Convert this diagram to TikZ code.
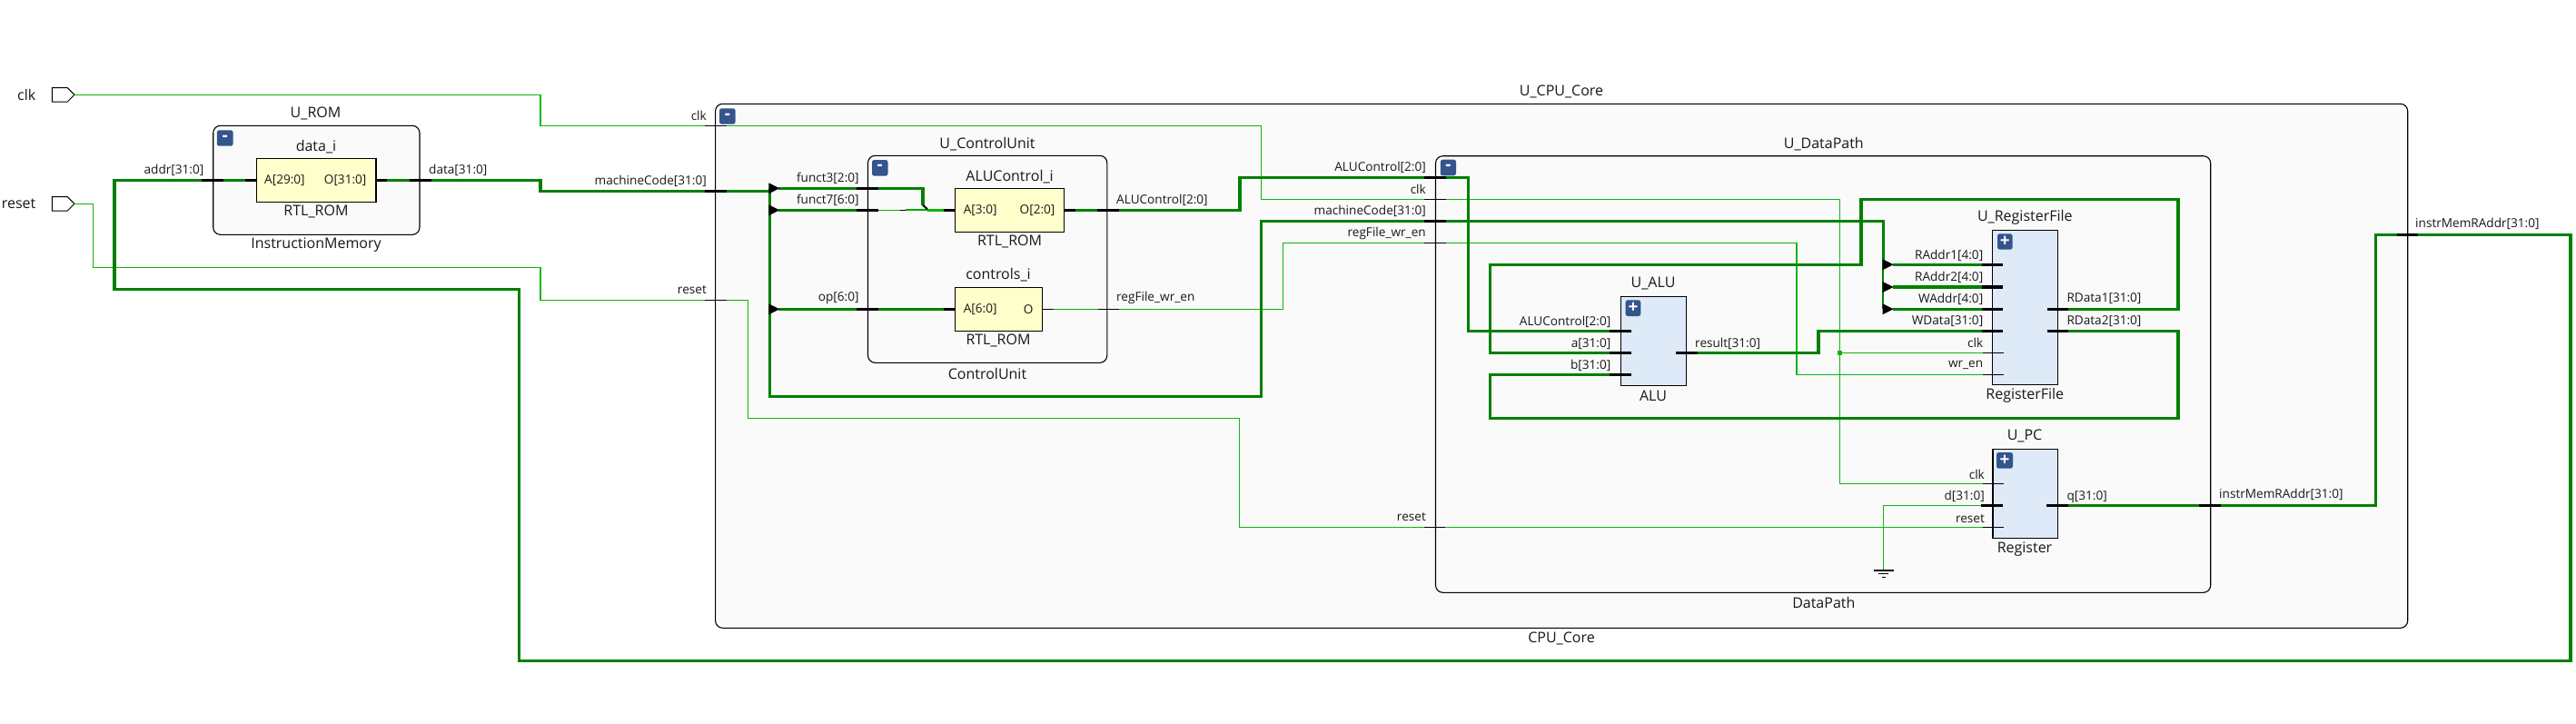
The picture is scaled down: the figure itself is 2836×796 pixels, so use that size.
\documentclass[tikz,border=0pt]{standalone}
\usepackage{fontspec}
\setmainfont{Open Sans}
\usetikzlibrary{shapes.symbols,calc}
\definecolor{wirethick}{HTML}{008000}
\definecolor{wirethin}{HTML}{10B410}
\definecolor{cellfill}{HTML}{FAFAFA}
\definecolor{romfill}{HTML}{FFFFCC}
\definecolor{blockfill}{HTML}{DEEAF8}
\definecolor{iconfill}{HTML}{34548C}
\definecolor{txt}{HTML}{181818}
\tikzset{
  x=1pt,y=-1pt,
  boxbase/.style={inner sep=0pt,outer sep=0pt,line width=1.1pt,draw=black},
  cellbox/.style={boxbase,fill=cellfill,rounded corners=8pt},
  rombox/.style={boxbase,fill=romfill},
  blockbox/.style={boxbase,fill=blockfill},
  iconbox/.style={inner sep=0pt,outer sep=0pt,fill=iconfill,rounded corners=2.5pt,text=white,font=\fontsize{19}{19}\selectfont\bfseries},
  port/.style={signal,signal to=east,signal pointer angle=90,draw=black,line width=1pt,fill=white,inner sep=0pt,outer sep=0pt,minimum width=24.5pt,minimum height=15.5pt},
  bus/.style={draw=wirethick,line width=3.2pt,line join=miter},
  net/.style={draw=wirethin,line width=1.4pt,line join=miter},
  tickbus/.style={draw=black,line width=3.2pt},
  ticknet/.style={draw=black,line width=1.2pt},
  pinl/.style={font=\pinfont,text=txt,inner sep=0pt,anchor=east},
  pinr/.style={font=\pinfont,text=txt,inner sep=0pt,anchor=west},
  cellname/.style={font=\namefont,text=txt,inner sep=0pt,anchor=center},
  toplabel/.style={font=\topfont,text=txt,inner sep=0pt,anchor=east},
  head/.style={fill=black,draw=none},
}
\newcommand{\pinfont}{\fontsize{13.6}{13.6}\selectfont}
\newcommand{\namefont}{\fontsize{16}{16}\selectfont}
\newcommand{\topfont}{\fontsize{16}{16}\selectfont}
% \mkbox{style}{name}{x1}{y1}{x2}{y2}{text}
\newcommand{\mkbox}[7]{%
  \pgfmathsetmacro{\bw}{#5-#3}\pgfmathsetmacro{\bh}{#6-#4}%
  \pgfmathsetmacro{\bcx}{(#3+#5)/2}\pgfmathsetmacro{\bcy}{(#4+#6)/2}%
  \node[#1,minimum width=\bw pt,minimum height=\bh pt] (#2) at (\bcx,\bcy) {#7};}
% \headat{x}{y}: right-pointing bus-ripper triangle with its tip at x+12
\newcommand{\headat}[2]{\fill[head] (#1,#2-6) -- (#1+12,#2) -- (#1,#2+6) -- cycle;}
\begin{document}
\begin{tikzpicture}
\useasboundingbox (0,0) rectangle (2836,796);
\fill[white] (0,0) rectangle (2836,796);

% ---------- containers and leaf cells
\mkbox{cellbox}{cpu}{787.6}{114.3}{2650.7}{691.3}{}
\mkbox{cellbox}{rom}{234.7}{138.3}{462}{258.3}{}
\mkbox{cellbox}{cu}{955.5}{171.3}{1218.8}{399.3}{}
\mkbox{cellbox}{dp}{1580.5}{171.7}{2433.7}{652.3}{}
\mkbox{rombox}{datai}{282.6}{174.3}{414}{222.3}{}
\mkbox{rombox}{aluctl}{1051.4}{207.3}{1171.3}{255.3}{}
\mkbox{rombox}{ctrl}{1051.4}{316.3}{1147.3}{364.3}{}
\mkbox{blockbox}{alu}{1784.5}{326.3}{1856.8}{424.3}{}
\mkbox{blockbox}{rf}{2193.8}{253.3}{2265.5}{423.3}{}
\mkbox{blockbox}{pc}{2194}{494.3}{2265.6}{592.3}{}

% ---------- ports
\node[port] (clkport) at (65.8,104.3) {};
\node[port] (rstport) at (65.8,224.3) {};
\coordinate (gnd) at (2073.5,628);

% ---------- thin nets
\draw[net] (clkport.east) -- (595,104.3) -- (595,138.3) -- (800,138.3) -- (1388.7,138.3) -- (1388.7,219.3) -- (2025.5,219.3) -- (2025.5,532.3) -- (2183,532.3);
\draw[net] (2025.5,388.3) -- (2183,388.3);
\fill[wirethin] (2023,385.8) rectangle (2028,390.8);
\draw[net] (rstport.east) -- (102.5,224.3) -- (102.5,294.3) -- (595,294.3) -- (595,330.3) -- (823.4,330.3) -- (823.4,460.3) -- (1364.7,460.3) -- (1364.7,580.3) -- (2183,580.3);
\draw[net] (1160,340.3) -- (1412.7,340.3) -- (1412.7,267.3) -- (1978,267.3) -- (1978,412.3) -- (2183,412.3);
\draw[net] (gnd) -- (2073.5,556.3) -- (2181,556.3);
\draw[ticknet,line width=1.2pt] (2063,628) -- (2085,628) (2068,631.8) -- (2079,631.8) (2071.5,635.5) -- (2075.5,635.5);

% ---------- buses
\draw[bus] (rom.west |- 0,198.3) ++(-12,0) -- (126,198.3) -- (126,318.3) -- (571.4,318.3) -- (571.4,727.3) -- (2830,727.3) -- (2830,258.3) -- (2615.5,258.3) -- (2615.5,556.3) -- (2277,556.3);
\draw[bus] (246,198.3) -- (282.6,198.3);
\draw[bus] (426,198.3) -- (595,198.3) -- (595,210.3) -- (846.3,210.3);
\draw[bus] (847.3,207.3) -- (847.3,436.3) -- (1388.7,436.3) -- (1388.7,243.3) -- (2073.2,243.3) -- (2073.2,291.3);
\draw[bus,line width=2.4pt] (2073.2,291.3) -- (2073.2,340.3);
\draw[bus] (857,207.3) -- (967,207.3) -- (1016,207.3) -- (1016,226);
\draw[bus] (857,231.3) -- (967,231.3);
\draw[net] (967,231.3) -- (992,231.3);
\draw[ticknet,line width=1pt] (991,231.3) -- (997,231.3);
\draw[draw=wirethin!70!wirethick,line width=2.2pt] (997,231.3) -- (1022,231.3);
\draw[draw=wirethin,line width=3pt] (1021,231.3) -- (1039,231.3);
\draw[bus] (857,340.3) -- (1051.4,340.3);
\draw[bus] (1184,231.3) -- (1365,231.3) -- (1365,195.3) -- (1616.3,195.3) -- (1616.3,364.3) -- (1772.4,364.3);
\draw[bus] (2084,291.3) -- (2182,291.3);
\draw[bus] (2084,316) -- (2182,316);
\draw[bus] (2084,340.3) -- (2182,340.3);
\draw[bus] (2277,340.3) -- (2398,340.3) -- (2398,219.3) -- (2049,219.3) -- (2049,291.3) -- (1640.4,291.3) -- (1640.4,388.3) -- (1772.4,388.3);
\draw[bus] (2277,364.3) -- (2398,364.3) -- (2398,460.3) -- (1640.4,460.3) -- (1640.4,412.3) -- (1772.4,412.3);
\draw[bus] (1868.8,388.3) -- (2002,388.3) -- (2002,364.3) -- (2182,364.3);

% ---------- bus rippers
\headat{846.3}{207.3}
\headat{846.3}{231.3}
\headat{846.3}{340.3}
\headat{2072.6}{291.3}
\headat{2072.6}{316}
\headat{2072.6}{340.3}
\draw[line width=2pt,draw=black] (1016,225.8) -- (1021,230.2);

% ---------- ticks on buses
\foreach \xa/\xb/\yy in {222.4/246/198.3, 270/282.6/198.3, 414/426/198.3, 451/475/198.3,
  775.5/800/210.3, 943/967/207.3, 943/967/231.3, 943/967/340.3, 1039/1051.4/231.3, 1171.3/1184/231.3,
  1208/1232/231.3, 1039/1051.4/340.3, 1567.5/1592/195.3, 1567.5/1592/243.3,
  1772.4/1796/364.3, 1772.4/1796/388.3, 1772.4/1796/412.3, 1844.7/1868.8/388.3,
  2181.7/2205.3/291.3, 2181.7/2205.3/316, 2181.7/2205.3/340.3, 2181.7/2205.3/364.3,
  2253.5/2277/340.3, 2253.5/2277/364.3, 2181/2205/556.3, 2253/2277/556.3, 2421/2445/556.3, 2638.7/2662/258.3}
  {\draw[tickbus] (\xa,\yy) -- (\xb,\yy);}
% ---------- ticks on nets
\foreach \xa/\xb/\yy in {775.5/800/138.3, 775.5/800/330.3, 1147.3/1160/340.3, 1209/1232/340.3,
  1568/1592/219.3, 1568/1592/267.3, 1568/1591/580.3, 2183/2206/388.3, 2183/2206/412.3, 2182.6/2206/532.3, 2182.6/2206/580.3}
  {\draw[ticknet] (\xa,\yy) -- (\xb,\yy);}

% ---------- collapse / expand icons
\mkbox{iconbox}{icocpu}{792}{119.3}{809.6}{136.7}{-}
\mkbox{iconbox}{icorom}{238.8}{143.3}{256.6}{160.7}{-}
\mkbox{iconbox}{icocu}{960}{176}{977.5}{193.7}{-}
\mkbox{iconbox}{icodp}{1585.8}{175.7}{1603}{193.3}{-}
\mkbox{iconbox}{icoalu}{1789.6}{330.3}{1806.3}{348}{+}
\mkbox{iconbox}{icorf}{2199}{257.3}{2215.6}{274.7}{+}
\mkbox{iconbox}{icopc}{2198}{498}{2216}{515.7}{+}

% ---------- top port labels
\node[toplabel] (lclk) at (39.5,104.3) {clk};
\node[toplabel] (lrst) at (39.5,224.3) {reset};

% ---------- cell names
\foreach \nn/\xx/\yy/\tt in {a1/1719/101/U\_CPU\_Core, a2/1719/702.7/CPU\_Core,
  a3/347.5/125/U\_ROM, a4/348/161.7/data\_i, a5/348/233/RTL\_ROM, a6/348/270/InstructionMemory,
  a7/1087/158.3/U\_ControlUnit, a8/1087/411/ControlUnit,
  a9/1111.6/194.3/ALUControl\_i, a10/1111.6/266.3/RTL\_ROM, a11/1099/303/controls\_i, a12/1099/375.3/RTL\_ROM,
  a13/2007.8/158.3/U\_DataPath, a14/2007.8/663.3/DataPath,
  a15/1820/312.3/U\_ALU, a16/1820/436/ALU, a17/2229.3/239.3/U\_RegisterFile, a18/2229.3/435/RegisterFile,
  a19/2229/480/U\_PC, a20/2229/604.3/Register}
  {\node[cellname] (\nn) at (\xx,\yy) {\tt};}

% ---------- pin labels, right aligned
\foreach \nn/\xx/\yy/\tt in {b1/224.5/187/{addr[31:0]}, b2/778/199/{machineCode[31:0]}, b3/778/127.7/clk, b4/778/319/reset,
  b5/945.8/196.3/{funct3[2:0]}, b6/945.8/220/{funct7[6:0]}, b7/945.8/328.3/{op[6:0]},
  b8/403.6/198.3/{O[31:0]}, b9/1161.6/231.3/{O[2:0]}, b10/1137.6/340.3/O,
  b11/1570/184.3/{ALUControl[2:0]}, b12/1570/208.3/clk, b13/1570/232.3/{machineCode[31:0]}, b14/1570/256.7/{regFile\_wr\_en},
  b15/1570/569.5/reset,
  b16/1773.5/354.3/{ALUControl[2:0]}, b17/1773.5/378.3/{a[31:0]}, b18/1773.5/402.3/{b[31:0]},
  b19/2183.4/281.3/{RAddr1[4:0]}, b20/2183.4/305/{RAddr2[4:0]}, b21/2183.4/329/{WAddr[4:0]}, b22/2183.4/353.3/{WData[31:0]},
  b23/2183.4/377.3/clk, b24/2183.4/401.7/{wr\_en}, b25/2185/522.3/clk, b26/2185/546.7/{d[31:0]}, b27/2185/570.7/reset}
  {\node[pinl] (\nn) at (\xx,\yy) {\tt};}

% ---------- pin labels, left aligned
\foreach \nn/\xx/\yy/\tt in {c1/472/187/{data[31:0]}, c2/291/198.3/{A[29:0]}, c3/1060.6/231.3/{A[3:0]}, c4/1060.6/340.3/{A[6:0]},
  c5/1229/220/{ALUControl[2:0]}, c6/1229/328.3/{regFile\_wr\_en}, c7/1866/378.3/{result[31:0]},
  c8/2275.3/329/{RData1[31:0]}, c9/2275.3/353.3/{RData2[31:0]}, c10/2275.3/546.7/{q[31:0]},
  c11/2443/544.3/{instrMemRAddr[31:0]}, c12/2659/246.7/{instrMemRAddr[31:0]}}
  {\node[pinr] (\nn) at (\xx,\yy) {\tt};}
\end{tikzpicture}
\end{document}
